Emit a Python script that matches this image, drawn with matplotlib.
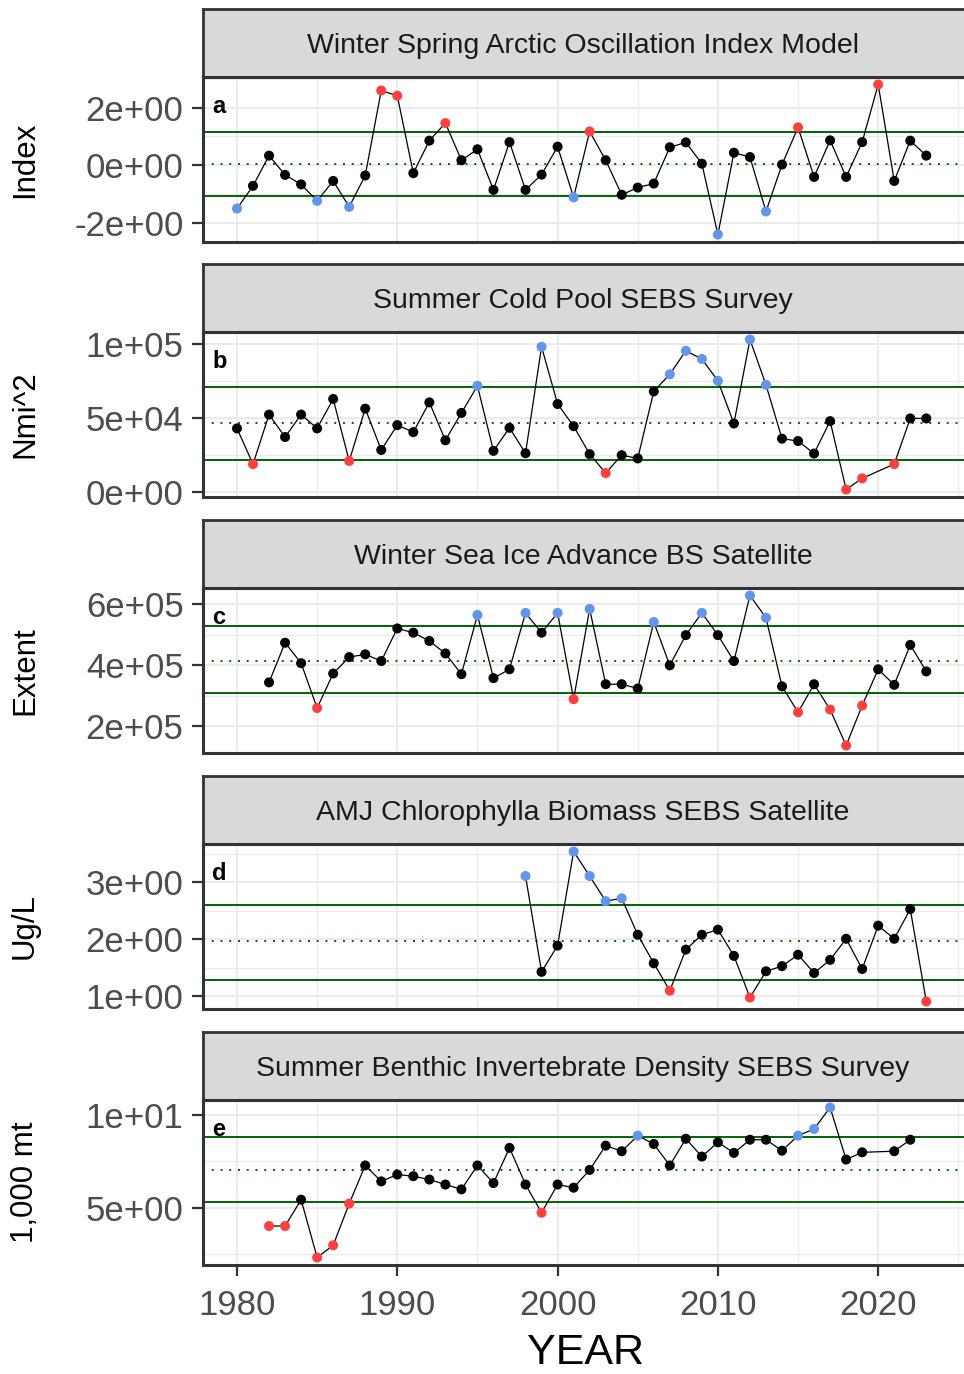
import numpy as np
import matplotlib
matplotlib.use("Agg")
import matplotlib.pyplot as plt
from matplotlib.ticker import FixedLocator, AutoMinorLocator, FuncFormatter

plt.rcParams['font.family'] = ['Liberation Sans', 'DejaVu Sans']

# ---- data ----
titles = ["Winter Spring Arctic Oscillation Index Model",
          "Summer Cold Pool SEBS Survey",
          "Winter Sea Ice Advance BS Satellite",
          "AMJ Chlorophylla Biomass SEBS Satellite",
          "Summer Benthic Invertebrate Density SEBS Survey"]
ylabels = ["Index", "Nmi^2", "Extent", "Ug/L", "1,000 mt"]
letters = ["a", "b", "c", "d", "e"]

years_a = list(range(1980, 2024))
vals_a = [-1.51, -0.72, 0.33, -0.34, -0.67, -1.24, -0.55, -1.45, -0.36, 2.59,
          2.41, -0.28, 0.85, 1.46, 0.17, 0.55, -0.86, 0.80, -0.86, -0.33,
          0.64, -1.12, 1.17, 0.17, -1.03, -0.78, -0.64, 0.62, 0.79, 0.05,
          -2.41, 0.43, 0.28, -1.61, 0.02, 1.31, -0.41, 0.86, -0.41, 0.80,
          2.80, -0.55, 0.85, 0.33]

years_b = list(range(1980, 2020)) + [2021, 2022, 2023]
vals_b = [42900, 18900, 52200, 37100, 52200, 42900, 62700, 21000, 56200, 28400,
          45100, 40400, 60400, 34900, 53300, 71500, 27800, 43300, 26200, 97800,
          59300, 44400, 25600, 12900, 24900, 22700, 67800, 79300, 95100, 89600,
          74900, 46200, 102700, 72200, 36000, 34400, 26000, 47800, 1800, 9300,
          18900, 49600, 49600]

years_c = list(range(1982, 2024))
vals_c = [343000, 473000, 406000, 259000, 372000, 426000, 435000, 413000,
          520000, 506000, 479000, 438000, 370000, 564000, 357000, 386000, 571000, 506000,
          571000, 288000, 584000, 337000, 337000, 323000, 541000, 399000, 498000, 571000,
          498000, 413000, 628000, 555000, 330000, 245000, 337000, 254000, 136000, 267000,
          386000, 335000, 466000, 379000]

years_d = list(range(1998, 2024))
vals_d = [3.11, 1.43,
          1.89, 3.54, 3.11, 2.67, 2.72, 2.08, 1.58, 1.10, 1.82, 2.08,
          2.17, 1.71, 0.98, 1.44, 1.53, 1.73, 1.41, 1.64, 2.01, 1.48,
          2.24, 2.01, 2.53, 0.91]

years_e = list(range(1982, 2020)) + [2021, 2022]
vals_e = [4.01, 4.01, 5.43, 2.31, 2.97, 5.22, 7.28, 6.42,
          6.79, 6.70, 6.52, 6.25, 5.99, 7.28, 6.33, 8.23, 6.25, 4.73,
          6.25, 6.08, 7.04, 8.35, 8.05, 8.89, 8.44, 7.28, 8.72, 7.76,
          8.53, 7.96, 8.67, 8.67, 8.08, 8.89, 9.25, 10.41, 7.60, 7.99,
          8.05, 8.67]

# mean, mean + sd, mean - sd
means = [0.03, 46200, 414000, 1.97, 7.04]
uppers = [1.14, 70700, 527000, 2.61, 8.80]
lowers = [-1.09, 21800, 309000, 1.29, 5.30]

yticks = [[-2, 0, 2], [0, 5e4, 1e5], [2e5, 4e5, 6e5], [1, 2, 3], [5, 10]]
xticks = [1980, 1990, 2000, 2010, 2020]

RED = "#FF4040"
BLUE = "#6495ED"
# colour of points above / below the sd lines
high_cols = [RED, BLUE, BLUE, BLUE, BLUE]
low_cols = [BLUE, RED, RED, RED, RED]

years_all = [years_a, years_b, years_c, years_d, years_e]
vals_all = [vals_a, vals_b, vals_c, vals_d, vals_e]

# ---- layout (pixels) ----
W, H = 964, 1374
fig = plt.figure(figsize=(W / 100, H / 100), dpi=100)
left_px, right_px = 203, 967
strip_tops = [9, 264, 520, 776, 1032]
strip_h, panel_h = 68, 165
DARK = "#333333"


def sci(v, pos):
    # R style scientific labels, e.g. 5e+04
    return "%.0e" % v


for i in range(5):
    st = strip_tops[i]
    ax_s = fig.add_axes([left_px / W, 1 - (st + strip_h) / H,
                         (right_px - left_px) / W, strip_h / H])
    ax_s.set_facecolor("#D9D9D9")
    ax_s.set_xticks([])
    ax_s.set_yticks([])
    for sp in ax_s.spines.values():
        sp.set_color(DARK)
        sp.set_linewidth(2)
    ax_s.text(0.5 - 2 / (right_px - left_px), 0.45, titles[i], ha="center", va="center",
              fontsize=20.5, color="#1A1A1A", transform=ax_s.transAxes)

    top = st + strip_h
    ax = fig.add_axes([left_px / W, 1 - (top + panel_h) / H,
                       (right_px - left_px) / W, panel_h / H])
    yrs = np.array(years_all[i])
    v = np.array(vals_all[i], dtype=float)

    ax.axhline(uppers[i], color="#006400", lw=1.4, zorder=2)
    ax.axhline(lowers[i], color="#006400", lw=1.4, zorder=2)
    ax.axhline(means[i], color="#006400", lw=1.4, ls=(0, (1, 3.5)), zorder=2)

    ax.plot(yrs, v, color="black", lw=0.9, zorder=3)
    cols = np.where(v > uppers[i], high_cols[i],
                    np.where(v < lowers[i], low_cols[i], "black"))
    ax.scatter(yrs, v, s=52, c=cols, linewidths=0, zorder=4)

    rng = v.max() - v.min()
    ax.set_ylim(v.min() - 0.05 * rng, v.max() + 0.05 * rng)
    ax.set_xlim(1977.88, 2025.54)

    ax.yaxis.set_major_locator(FixedLocator(yticks[i]))
    ax.yaxis.set_minor_locator(AutoMinorLocator(2))
    ax.yaxis.set_major_formatter(FuncFormatter(sci))
    ax.xaxis.set_major_locator(FixedLocator(xticks))
    ax.xaxis.set_minor_locator(FixedLocator([1985, 1995, 2005, 2015, 2025]))
    ax.grid(which="major", color="#EBEBEB", lw=1.4)
    ax.grid(which="minor", color="#EBEBEB", lw=0.9)
    ax.set_axisbelow(True)

    for sp in ax.spines.values():
        sp.set_color(DARK)
        sp.set_linewidth(2.2)
    ax.tick_params(axis="y", which="major", length=8, width=1.6, color=DARK,
                   labelsize=25, labelcolor="#4D4D4D", pad=6)
    ax.tick_params(which="minor", length=0)
    if i < 4:
        ax.tick_params(axis="x", which="major", length=0, labelbottom=False)
    else:
        ax.tick_params(axis="x", which="major", length=8, width=1.6, color=DARK,
                       labelsize=25, labelcolor="#4D4D4D", pad=9)

    ax.text(0.012, 0.82, letters[i], transform=ax.transAxes, fontsize=17,
            fontweight="bold", ha="left", va="center", color="black")

    fig.text(25 / W, 1 - (top + panel_h / 2) / H, ylabels[i], rotation=90,
             ha="center", va="center", fontsize=22.5, color="black")

fig.text(585 / W, 1 - 1353 / H, "YEAR", ha="center", va="center",
         fontsize=31, color="black")

fig.savefig("out.png", dpi=100)
